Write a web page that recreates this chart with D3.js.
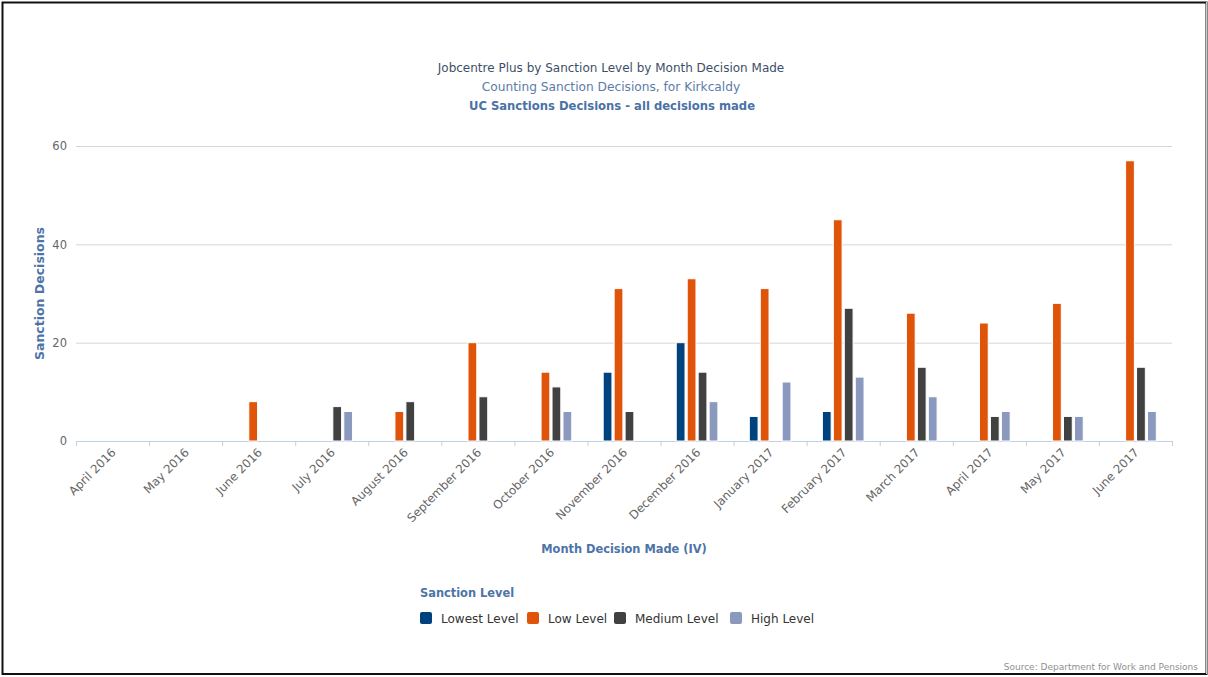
<!DOCTYPE html>
<html>
<head>
<meta charset="utf-8">
<script src="https://cdn.jsdelivr.net/npm/d3@7"></script>
<style>
  html, body { margin: 0; padding: 0; background: #fff; }
  svg { display: block; font-family: "DejaVu Sans", sans-serif; }
</style>
</head>
<body>
<svg id="chart" width="1208" height="677"></svg>
<script>
// Monthly sanction decisions for Kirkcaldy, split by sanction level
const months = ["April 2016", "May 2016", "June 2016", "July 2016", "August 2016",
  "September 2016", "October 2016", "November 2016", "December 2016", "January 2017",
  "February 2017", "March 2017", "April 2017", "May 2017", "June 2017"];
const levels = ["Lowest Level", "Low Level", "Medium Level", "High Level"];
const lowestLevel = [0, 0, 0, 0, 0, 0, 0, 14, 20, 5, 6, 0, 0, 0, 0];
const lowLevel    = [0, 0, 8, 0, 6, 20, 14, 31, 33, 31, 45, 26, 24, 28, 57];
const mediumLevel = [0, 0, 0, 7, 8, 9, 11, 6, 14, 0, 27, 15, 5, 5, 15];
const highLevel   = [0, 0, 0, 6, 0, 0, 6, 0, 8, 12, 13, 9, 6, 5, 6];
const yTicks = [0, 20, 40, 60];
const levelColors = ["#00427d", "#e0540a", "#414141", "#8b99bf"];

const seriesValues = [lowestLevel, lowLevel, mediumLevel, highLevel];

const svg = d3.select("#chart");

// outer frame
svg.append("rect").attr("x", 2.5).attr("y", 2.5).attr("width", 1204).attr("height", 671.5)
  .attr("fill", "none").attr("stroke", "#111").attr("stroke-width", 2);
svg.append("line").attr("x1", 1206.5).attr("x2", 1206.5).attr("y1", 2).attr("y2", 674)
  .attr("stroke", "#ccc").attr("stroke-width", 1);

const plot = { left: 76, right: 1172, top: 146, bottom: 441 };

const x = d3.scaleBand().domain(months).range([plot.left, plot.right]).paddingInner(0).paddingOuter(0);
const groupPad = x.bandwidth() * 0.2;
const xs = d3.scaleBand().domain(levels).range([0, x.bandwidth() - 2 * groupPad]).padding(0);
const y = d3.scaleLinear().domain([0, 60]).range([plot.bottom, plot.top]);

// titles
const titles = svg.append("g").attr("text-anchor", "middle");
titles.append("text").attr("x", 611).attr("y", 72).attr("font-size", 12)
  .attr("fill", "#3d4f68").text("Jobcentre Plus by Sanction Level by Month Decision Made");
titles.append("text").attr("x", 611).attr("y", 91).attr("font-size", 12.2)
  .attr("fill", "#5b7ca8").text("Counting Sanction Decisions, for Kirkcaldy");
titles.append("text").attr("x", 612).attr("y", 110).attr("font-size", 11.6).attr("font-weight", "bold")
  .attr("fill", "#4a72a5").text("UC Sanctions Decisions - all decisions made");

// gridlines and y labels
const yAxis = d3.axisLeft(y).tickValues(yTicks).tickSize(-(plot.right - plot.left)).tickPadding(9);
const gy = svg.append("g").attr("transform", `translate(${plot.left},0)`).call(yAxis);
gy.select(".domain").remove();
gy.selectAll(".tick line").attr("stroke", "#d6d6d6").attr("stroke-width", 1)
  .filter(d => d === 0).remove();
gy.selectAll(".tick text").attr("fill", "#666").attr("font-size", 11.5)
  .attr("font-family", "DejaVu Sans, sans-serif").attr("dy", "0.32em");

// x axis
const xAxis = d3.axisBottom(x).tickSize(0).tickFormat(d => d);
const gx = svg.append("g").attr("transform", `translate(0,${plot.bottom})`).call(xAxis);
gx.select(".domain").attr("stroke", "#c0d0e0").attr("d", `M${plot.left},0.5H${plot.right}`);
gx.selectAll(".tick text").attr("fill", "#666").attr("font-size", 11.8)
  .attr("font-family", "DejaVu Sans, sans-serif")
  .attr("text-anchor", "end")
  .attr("dy", 0)
  .attr("transform", "translate(2,10) rotate(-45)");
// category boundary ticks
gx.selectAll(".boundary").data(d3.range(months.length + 1)).join("line")
  .attr("x1", i => plot.left + i * x.bandwidth() + 0.5)
  .attr("x2", i => plot.left + i * x.bandwidth() + 0.5)
  .attr("y1", 0).attr("y2", 5).attr("stroke", "#c0d0e0");

// bars
const groups = svg.append("g").selectAll("g").data(months).join("g")
  .attr("transform", d => `translate(${x(d) + groupPad},0)`);
groups.selectAll("rect")
  .data((m, i) => levels.map((lv, k) => ({ level: lv, k, value: seriesValues[k][i] })).filter(d => d.value > 0))
  .join("rect")
  .attr("x", d => xs(d.level) + xs.bandwidth() * 0.1)
  .attr("width", xs.bandwidth() * 0.8)
  .attr("y", d => y(d.value))
  .attr("height", d => y(0) - y(d.value))
  .attr("fill", d => levelColors[d.k])
  .attr("stroke", "#fff").attr("stroke-width", 1);

// axis titles
svg.append("text").attr("transform", `translate(44,${(plot.top + plot.bottom) / 2}) rotate(-90)`)
  .attr("text-anchor", "middle").attr("font-size", 12.5).attr("font-weight", "bold")
  .attr("fill", "#4d74a8").text("Sanction Decisions");
svg.append("text").attr("x", 624).attr("y", 553).attr("text-anchor", "middle")
  .attr("font-size", 11.4).attr("font-weight", "bold")
  .attr("fill", "#4d74a8").text("Month Decision Made (IV)");

// legend
const legend = svg.append("g").attr("transform", "translate(420,0)");
legend.append("text").attr("x", 0).attr("y", 597).attr("font-size", 11.4).attr("font-weight", "bold")
  .attr("fill", "#4d74a8").text("Sanction Level");
const legendX = [0, 107, 194, 310];
const items = legend.selectAll("g.item").data(levels).join("g")
  .attr("transform", (d, i) => `translate(${legendX[i]},612)`);
items.append("rect").attr("width", 12).attr("height", 12).attr("rx", 2)
  .attr("fill", (d, i) => levelColors[i]);
items.append("text").attr("x", 21).attr("y", 11).attr("font-size", 12)
  .attr("fill", "#333").text(d => d);

// source credit
svg.append("text").attr("x", 1198).attr("y", 670).attr("text-anchor", "end")
  .attr("font-size", 9).attr("fill", "#909090").text("Source: Department for Work and Pensions");
</script>
</body>
</html>
